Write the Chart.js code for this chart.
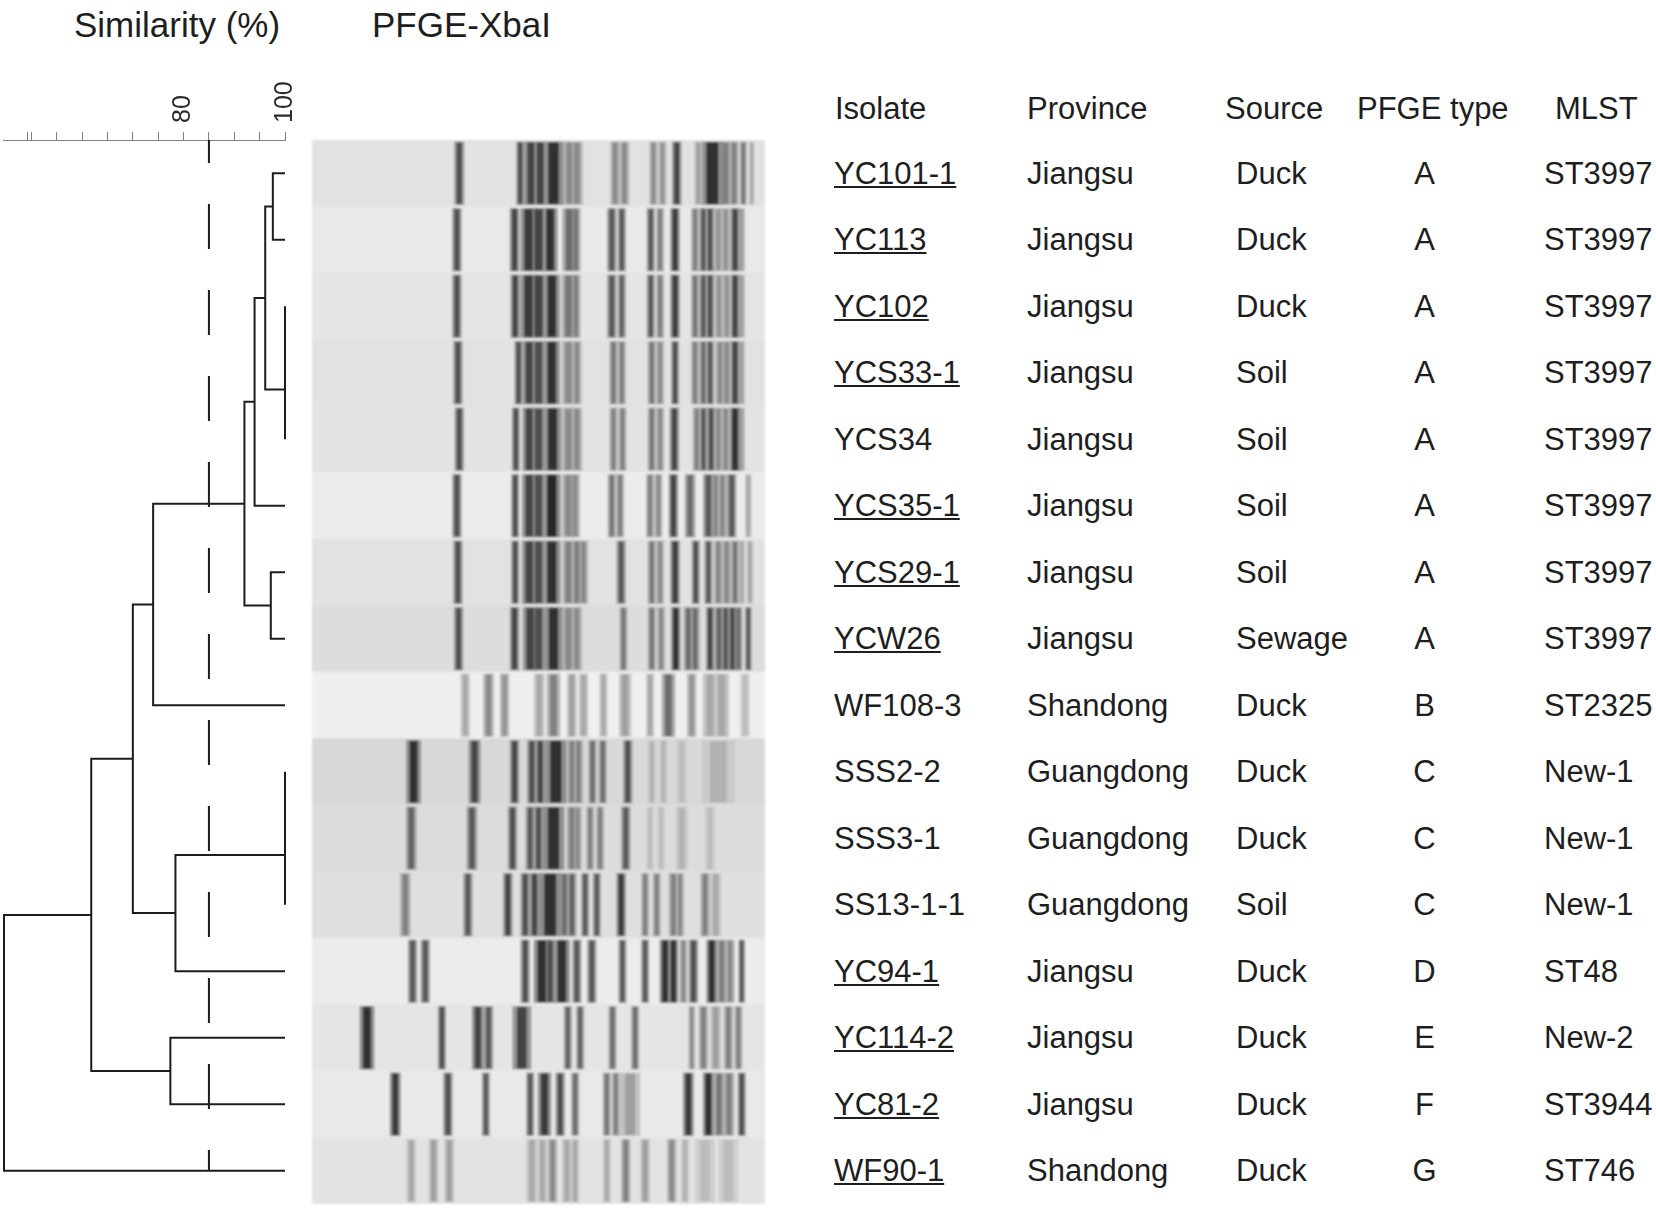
<!DOCTYPE html>
<html>
<head>
<meta charset="utf-8">
<script src="https://cdn.jsdelivr.net/npm/chart.js@4/dist/chart.umd.min.js"></script>
<style>
body { margin: 0; background: #fff; width: 1656px; height: 1209px; position: relative; overflow: hidden;
       font-family: "Liberation Sans", Arial, sans-serif; color: #1e1e1e; }
.box { position: absolute; }
.title { position: absolute; font-size: 35px; line-height: 35px; white-space: nowrap; }
.cell { position: absolute; font-size: 31px; line-height: 31px; white-space: nowrap; }
.u { text-decoration: underline; text-decoration-thickness: 2px; text-underline-offset: 2px; }
</style>
</head>
<body>
<div class="title" style="left:74px;top:7px">Similarity (%)</div>
<div class="title" style="left:372px;top:7px">PFGE-XbaI</div>
<div class="box" style="left:0;top:0;width:300px;height:1209px"><canvas id="dendro"></canvas></div>
<div class="box" style="left:312px;top:140px;width:453px;height:1064px;filter:blur(0.9px)"><canvas id="gel"></canvas></div>
<div id="table"></div>
<script>
// isolate table
var isolates = ["YC101-1", "YC113", "YC102", "YCS33-1", "YCS34", "YCS35-1", "YCS29-1", "YCW26",
    "WF108-3", "SSS2-2", "SSS3-1", "SS13-1-1", "YC94-1", "YC114-2", "YC81-2", "WF90-1"];
var underlined = [1, 1, 1, 1, 0, 1, 1, 1, 0, 0, 0, 0, 1, 1, 1, 1];
var provinces = ["Jiangsu", "Jiangsu", "Jiangsu", "Jiangsu", "Jiangsu", "Jiangsu", "Jiangsu", "Jiangsu",
    "Shandong", "Guangdong", "Guangdong", "Guangdong", "Jiangsu", "Jiangsu", "Jiangsu", "Shandong"];
var sources = ["Duck", "Duck", "Duck", "Soil", "Soil", "Soil", "Soil", "Sewage",
    "Duck", "Duck", "Duck", "Soil", "Duck", "Duck", "Duck", "Duck"];
var pfgeTypes = ["A", "A", "A", "A", "A", "A", "A", "A", "B", "C", "C", "C", "D", "E", "F", "G"];
var mlst = ["ST3997", "ST3997", "ST3997", "ST3997", "ST3997", "ST3997", "ST3997", "ST3997",
    "ST2325", "New-1", "New-1", "New-1", "ST48", "New-2", "ST3944", "ST746"];

// UPGMA merges: leaves are 0..15, merge m creates node 16+m
var mergeA = [0, 2, 17, 16, 19, 6, 20, 22, 9, 24, 25, 23, 13, 27, 29];
var mergeB = [1, 3, 4, 18, 5, 7, 21, 8, 10, 11, 12, 26, 14, 28, 15];
var mergeSimilarity = [97.6, 100, 100, 96.1, 94.0, 97.2, 92.0, 74.0, 100, 100, 78.4, 70.0, 77.4, 61.8, 44.6];
var similarityTicks = [49.2, 50, 55, 60, 65, 70, 75, 80, 85, 90, 95, 100];
var labelledTicks = [80, 100];
var cutoff = 85;

// gel: per lane [migration, intensity 0-1, spread]
var laneStain = [0.32, 0.2, 0.27, 0.32, 0.3, 0.15, 0.32, 0.4, 0.1, 0.48, 0.42, 0.36, 0.15, 0.27, 0.2, 0.3];
var laneBands = [
    [[462,.75,15],[645,.75,12],[677,.8,20],[705,.8,20],[745,.9,30],[792,.45,18],[815,.45,18],[930,.45,14],[958,.45,14],[1045,.45,12],[1072,.4,12],[1115,.8,14],[1180,.35,12],[1222,.9,34],[1262,.5,18],[1287,.5,14],[1315,.55,10],[1340,.3,8]],
    [[455,.75,14],[628,.8,14],[670,.85,24],[700,.8,24],[735,.9,22],[792,.6,20],[812,.55,14],[920,.7,14],[950,.7,12],[1037,.7,12],[1065,.5,12],[1110,.85,14],[1170,.5,12],[1195,.7,12],[1215,.75,12],[1240,.4,14],[1262,.4,14],[1290,.8,14],[1310,.35,10]],
    [[455,.75,14],[630,.8,14],[670,.85,24],[700,.8,24],[740,.9,24],[790,.55,20],[812,.5,14],[920,.7,14],[950,.65,12],[1037,.7,12],[1065,.5,12],[1110,.85,14],[1170,.55,12],[1195,.7,12],[1215,.75,12],[1242,.4,14],[1265,.4,14],[1290,.8,14],[1310,.35,10]],
    [[458,.75,14],[640,.75,12],[672,.8,20],[700,.75,22],[740,.9,24],[790,.45,20],[815,.45,14],[925,.55,12],[950,.5,12],[1040,.55,12],[1065,.45,12],[1110,.75,12],[1170,.5,12],[1195,.6,12],[1215,.7,12],[1245,.45,14],[1265,.45,14],[1290,.8,14],[1310,.35,10]],
    [[462,.75,14],[632,.75,12],[672,.8,20],[700,.75,22],[742,.9,26],[790,.45,20],[815,.45,16],[925,.5,12],[952,.5,12],[1040,.55,12],[1065,.45,12],[1108,.8,14],[1175,.5,12],[1195,.7,12],[1218,.75,12],[1240,.45,14],[1262,.45,14],[1290,.9,16],[1310,.35,10]],
    [[455,.75,14],[630,.75,12],[672,.8,22],[700,.75,22],[740,.95,26],[790,.45,20],[810,.45,14],[920,.55,12],[945,.5,12],[1035,.5,12],[1060,.45,12],[1105,.8,14],[1155,.6,16],[1210,.7,16],[1232,.45,14],[1252,.45,14],[1280,.7,14],[1330,.3,10]],
    [[458,.75,14],[630,.75,12],[672,.8,22],[700,.75,22],[740,.9,26],[790,.5,18],[815,.5,16],[835,.45,14],[948,.7,14],[1040,.55,12],[1065,.45,12],[1110,.85,14],[1172,.75,12],[1210,.7,12],[1240,.45,14],[1265,.45,14],[1290,.55,12],[1310,.3,10],[1335,.3,10]],
    [[460,.75,14],[628,.8,14],[675,.8,22],[700,.75,22],[745,.9,26],[790,.45,20],[815,.45,16],[955,.55,12],[1040,.55,12],[1068,.45,12],[1112,.9,14],[1150,.6,14],[1170,.6,14],[1215,.8,12],[1242,.65,14],[1262,.7,14],[1282,.75,14],[1300,.6,12],[1330,.7,10]],
    [[480,.3,14],[550,.45,16],[598,.4,14],[702,.3,16],[745,.5,20],[800,.35,14],[835,.3,14],[895,.3,12],[960,.35,18],[1035,.3,12],[1090,.6,20],[1160,.4,14],[1215,.3,22],[1250,.3,22],[1320,.2,14]],
    [[325,.9,22],[508,.8,18],[628,.8,14],[680,.75,14],[705,.8,14],[752,.9,32],[800,.5,14],[820,.5,14],[862,.6,12],[893,.6,12],[968,.75,14],[1040,.25,12],[1075,.25,12],[1130,.2,16],[1240,.25,50]],
    [[318,.65,16],[500,.7,16],[622,.75,14],[675,.7,14],[700,.75,14],[745,.9,32],[800,.5,16],[818,.45,12],[855,.5,12],[885,.5,12],[962,.7,14],[1035,.2,12],[1068,.2,12],[1130,.25,18],[1215,.2,16]],
    [[300,.5,16],[488,.7,14],[608,.8,14],[660,.75,14],[688,.8,14],[735,.9,34],[778,.6,14],[800,.65,14],[840,.7,12],[875,.7,12],[948,.85,14],[1020,.5,12],[1055,.5,12],[1105,.5,14],[1125,.45,12],[1200,.5,14],[1232,.3,16]],
    [[322,.7,14],[360,.7,14],[660,.75,14],[710,.9,24],[735,.75,16],[770,.9,24],[815,.7,14],[860,.7,14],[952,.7,12],[1020,.7,12],[1080,.9,16],[1105,.9,14],[1135,.45,12],[1165,.75,14],[1220,.9,16],[1250,.5,16],[1275,.45,14],[1310,.7,10]],
    [[185,.9,22],[410,.75,12],[518,.8,18],[550,.7,14],[650,.8,28],[788,.65,12],[825,.65,12],[922,.6,12],[990,.6,12],[1160,.45,10],[1195,.5,14],[1232,.35,16],[1270,.5,14],[1300,.5,12]],
    [[270,.85,16],[428,.75,14],[542,.7,12],[675,.7,12],[718,.85,20],[765,.75,14],[810,.6,12],[905,.55,12],[932,.5,12],[975,.35,30],[1150,.85,16],[1210,.9,16],[1242,.55,16],[1272,.5,16],[1310,.75,12]],
    [[318,.3,14],[385,.35,14],[432,.35,14],[680,.3,16],[712,.3,14],[742,.45,14],[785,.3,14],[810,.3,12],[905,.3,12],[962,.5,14],[1020,.35,14],[1100,.45,14],[1140,.25,12],[1200,.2,30],[1270,.2,30]]
];
var gelRange = [20, 1380];

function grey(v) {
    v = Math.max(0, Math.min(255, Math.round(v)));
    return "rgb(" + v + "," + v + "," + v + ")";
}

dendrogram();
gel();
table();

function dendrogram(){
    var nodeX = [], nodeY = [];
    for (var i = 0; i < isolates.length; i++) { nodeX.push(100); nodeY.push(i); }
    var sets = [];
    for (var m = 0; m < mergeA.length; m++) {
        var a = mergeA[m], b = mergeB[m], s = mergeSimilarity[m];
        nodeX.push(s);
        nodeY.push((nodeY[a] + nodeY[b]) / 2);
        sets.push({
            data: [{x: nodeX[a], y: nodeY[a]}, {x: s, y: nodeY[a]}, {x: s, y: nodeY[b]}, {x: nodeX[b], y: nodeY[b]}],
            borderColor: "#1c1c1c",
            borderWidth: 2
        });
    }
    // 85% cut-off
    sets.push({
        data: [{x: cutoff, y: -0.5}, {x: cutoff, y: isolates.length - 1}],
        borderColor: "#1c1c1c",
        borderWidth: 2,
        borderDash: [45, 41],
        borderDashOffset: 22
    });
    sets.forEach(function(d){
        d.showLine = true;
        d.pointRadius = 0;
        d.fill = false;
        d.clip = false;
        d.borderJoinStyle = "miter";
        d.borderCapStyle = "butt";
        d.tension = 0;
    });

    new Chart(document.getElementById("dendro"), {
        type: "scatter",
        data: { datasets: sets },
        options: {
            responsive: true,
            maintainAspectRatio: false,
            animation: false,
            layout: { padding: { left: 3, right: 15, top: 0, bottom: 5 } },
            plugins: { legend: { display: false }, tooltip: { enabled: false } },
            scales: {
                x: {
                    type: "linear",
                    position: "top",
                    min: 44.4,
                    max: 100,
                    afterBuildTicks: function(s){ s.ticks = similarityTicks.map(function(v){ return {value: v}; }); },
                    afterFit: function(s){ s.height = 140; s.paddingLeft = 0; s.paddingRight = 0; },
                    grid: { drawOnChartArea: false, drawTicks: true, tickLength: 8, color: "#808080", lineWidth: 1 },
                    border: { display: true, color: "#808080", width: 1 },
                    ticks: {
                        autoSkip: false,
                        minRotation: 90,
                        maxRotation: 90,
                        padding: 9,
                        labelOffset: 30,
                        color: "#2a2a2a",
                        font: { family: "'Liberation Sans', Arial, sans-serif", size: 25 },
                        callback: function(v){ return labelledTicks.indexOf(v) >= 0 ? String(v) : ""; }
                    }
                },
                y: { type: "linear", display: false, reverse: true, min: -0.5, max: isolates.length - 0.5 }
            }
        }
    });
};

function gel(){
    var sets = [];
    var most = Math.max.apply(null, laneBands.map(function(b){ return b.length; }));
    for (var k = 0; k < most; k++) {
        // band core
        sets.push({
            data: laneBands.map(function(b){ return b[k] ? [b[k][0] - b[k][2] / 2, b[k][0] + b[k][2] / 2] : null; }),
            backgroundColor: laneBands.map(function(b){ return b[k] ? grey(228 - 200 * b[k][1]) : "rgba(0,0,0,0)"; }),
            barPercentage: 0.92,
            categoryPercentage: 1,
            order: 0
        });
        // diffuse edge of the band
        sets.push({
            data: laneBands.map(function(b){ return b[k] ? [b[k][0] - b[k][2], b[k][0] + b[k][2]] : null; }),
            backgroundColor: laneBands.map(function(b){ return b[k] ? grey(226 - 95 * b[k][1]) : "rgba(0,0,0,0)"; }),
            barPercentage: 0.95,
            categoryPercentage: 1,
            order: 1
        });
    }
    // lane background goes underneath the bands
    sets.push({
        data: isolates.map(function(){ return gelRange.slice(); }),
        backgroundColor: laneStain.map(function(s){ return grey(245 - 60 * s); }),
        barPercentage: 1,
        categoryPercentage: 1,
        order: 2
    });
    sets.forEach(function(d){ d.grouped = false; d.borderWidth = 0; });

    new Chart(document.getElementById("gel"), {
        type: "bar",
        data: { labels: isolates, datasets: sets },
        options: {
            indexAxis: "y",
            responsive: true,
            maintainAspectRatio: false,
            animation: false,
            layout: { padding: 0 },
            plugins: { legend: { display: false }, tooltip: { enabled: false } },
            scales: {
                x: { type: "linear", display: false, min: gelRange[0], max: gelRange[1] },
                y: { display: false }
            }
        }
    });
};

function table(){
    var el = document.getElementById("table");
    var html = "";
    function cell(text, left, top, extra){
        return '<div class="cell' + (extra || "") + '" style="left:' + left + 'px;top:' + top + 'px">' + text + '</div>';
    }
    function centred(text, centre, top){
        return '<div class="cell" style="left:' + (centre - 100) + 'px;width:200px;text-align:center;top:' + top + 'px">' + text + '</div>';
    }
    html += cell("Isolate", 835, 93) + cell("Province", 1027, 93) + cell("Source", 1225, 93) +
        cell("PFGE type", 1357, 93) + cell("MLST", 1555, 93);
    for (var i = 0; i < isolates.length; i++) {
        var top = 157.7 + 66.5 * i;
        html += cell(isolates[i], 834, top, underlined[i] ? " u" : "");
        html += cell(provinces[i], 1027, top);
        html += cell(sources[i], 1236, top);
        html += centred(pfgeTypes[i], 1424.5, top);
        html += cell(mlst[i], 1544, top);
    }
    el.innerHTML = html;
};
</script>
</body>
</html>
